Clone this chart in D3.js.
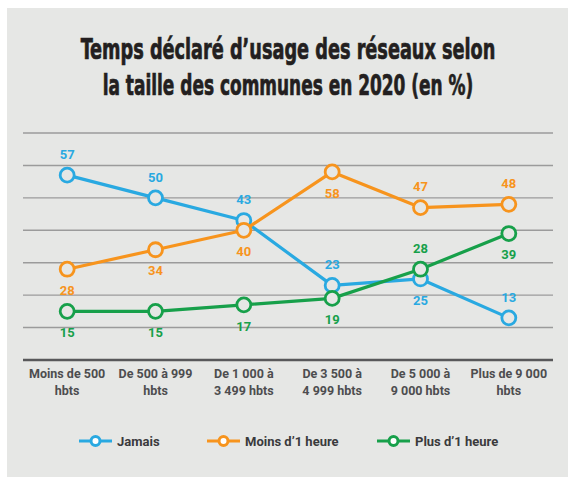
<!DOCTYPE html>
<html><head><meta charset="utf-8">
<script src="https://cdn.jsdelivr.net/npm/d3@7"></script>
<style>html,body{margin:0;padding:0;background:#fff;}svg{display:block;}</style>
</head><body>
<script>
const categories = [["Moins de 500","hbts"],["De 500 à 999","hbts"],["De 1 000 à","3 499 hbts"],["De 3 500 à","4 999 hbts"],["De 5 000 à","9 000 hbts"],["Plus de 9 000","hbts"]];
const jamais = [57, 50, 43, 23, 25, 13];
const moins1h = [28, 34, 40, 58, 47, 48];
const plus1h = [15, 15, 17, 19, 28, 39];
const seriesNames = ["Jamais", "Moins d’1 heure", "Plus d’1 heure"];
const yTicks = [10, 20, 30, 40, 50, 60, 70];
const titleLines = ["Temps déclaré d’usage des réseaux selon", "la taille des communes en 2020 (en %)"];

// label placement: -1 above, +1 below
const placements = [
  [-1, -1, -1, -1, 1, -1],
  [1, 1, 1, 1, -1, -1],
  [1, 1, 1, 1, -1, 1]
];
const colors = ["#29a9e1", "#f7941d", "#17a04a"];
const series = [jamais, moins1h, plus1h];

const W = 568, H = 477, bg = "#e6e7e5";
const svg = d3.select("body").append("svg").attr("width", W).attr("height", H);
svg.append("rect").attr("x", 7).attr("y", 8).attr("width", W - 7).attr("height", H - 8).attr("fill", bg);

const tf = "'Liberation Sans Narrow','DejaVu Sans Condensed',sans-serif";
const title = svg.append("g");
const tw = [415, 371];
titleLines.forEach((t, i) => {
  const el = title.append("text").attr("x", 0).attr("y", 0)
    .attr("text-anchor", "middle").attr("font-family", tf).attr("font-weight", "bold")
    .attr("font-size", 28).attr("fill", "#231f20")
    .attr("stroke", "#231f20").attr("stroke-width", 0.7).text(t);
  const w = el.node().getComputedTextLength();
  el.attr("transform", `translate(288,${59 + i * 36}) scale(${tw[i] / w},1)`);
});

const x = d3.scalePoint().domain(d3.range(categories.length)).range([23, 553]).padding(0.5);
const y = d3.scaleLinear().domain([0, 70]).range([360, 133]);

const grid = svg.append("g");
grid.selectAll("line").data(yTicks).join("line")
  .attr("x1", 23).attr("x2", 553).attr("y1", d => y(d)).attr("y2", d => y(d))
  .attr("stroke", "#9b9b9b").attr("stroke-width", 1.4);
svg.append("line").attr("x1", 23).attr("x2", 553).attr("y1", y(0)).attr("y2", y(0))
  .attr("stroke", "#58585a").attr("stroke-width", 2.5);

const lf = "Roboto, 'DejaVu Sans', sans-serif";
const xl = svg.append("g");
categories.forEach((c, i) => {
  const t = xl.append("text").attr("text-anchor", "middle").attr("font-family", lf)
    .attr("font-weight", "bold").attr("font-size", 12.5).attr("fill", "#4d4d4f");
  c.forEach((line, j) => t.append("tspan").attr("x", x(i)).attr("y", 378 + j * 17).text(line));
});

const line = d3.line().x((d, i) => x(i)).y(d => y(d));
series.forEach((s, k) => {
  const g = svg.append("g");
  g.append("path").datum(s).attr("d", line).attr("fill", "none")
    .attr("stroke", colors[k]).attr("stroke-width", 3.2).attr("stroke-linejoin", "round");
  g.selectAll("circle").data(s).join("circle")
    .attr("cx", (d, i) => x(i)).attr("cy", d => y(d)).attr("r", 7)
    .attr("fill", bg).attr("stroke", colors[k]).attr("stroke-width", 2.8);
});
series.forEach((s, k) => {
  svg.append("g").selectAll("text").data(s).join("text")
    .attr("x", (d, i) => x(i)).attr("y", (d, i) => y(d) + placements[k][i] * 21)
    .attr("dy", "0.36em").attr("text-anchor", "middle").attr("font-family", lf)
    .attr("font-weight", "bold").attr("font-size", 13).attr("fill", colors[k]).text(d => d);
});

const legX = [79, 207, 377];
const leg = svg.append("g");
seriesNames.forEach((n, k) => {
  const g = leg.append("g").attr("transform", `translate(${legX[k]},441)`);
  g.append("line").attr("x1", 0).attr("x2", 33).attr("stroke", colors[k]).attr("stroke-width", 3);
  g.append("circle").attr("cx", 16.5).attr("r", 4.5).attr("fill", "#fff").attr("stroke", colors[k]).attr("stroke-width", 3);
  g.append("text").attr("x", 38).attr("dy", "0.36em").attr("font-family", lf).attr("font-weight", "bold")
    .attr("font-size", 13).attr("fill", "#3a3a3c").text(n);
});
</script>
</body></html>
